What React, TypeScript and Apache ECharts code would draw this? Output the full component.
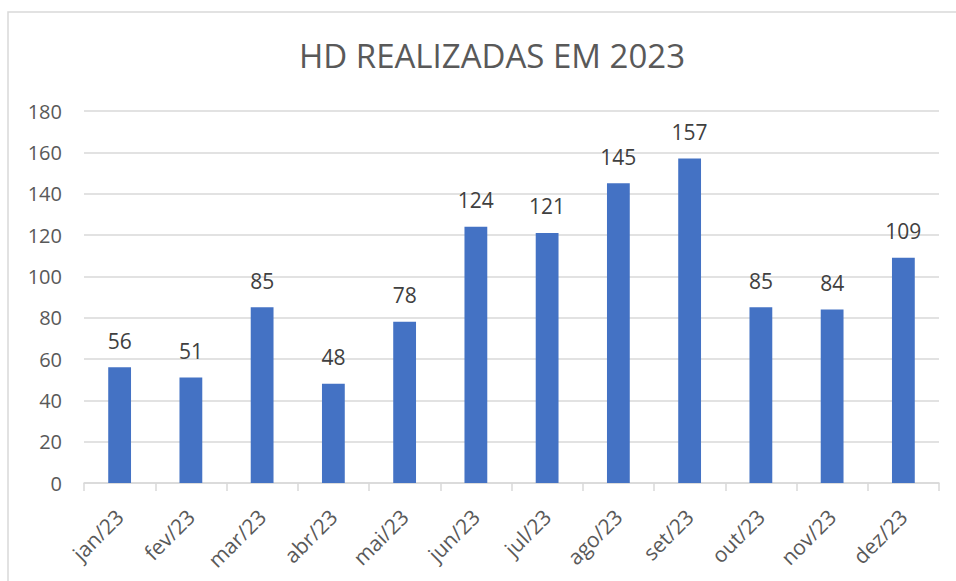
import React, { useEffect, useRef } from "react";
import * as echarts from "echarts";

const categories = ["jan/23", "fev/23", "mar/23", "abr/23", "mai/23", "jun/23", "jul/23", "ago/23", "set/23", "out/23", "nov/23", "dez/23"];
const values = [56, 51, 85, 48, 78, 124, 121, 145, 157, 85, 84, 109];
const titleText = "HD REALIZADAS EM 2023";

const FONT = "'Open Sans', 'Noto Sans', sans-serif";

export default function App() {
  const ref = useRef<HTMLDivElement>(null);
  useEffect(() => {
    if (!ref.current) return;
    const chart = echarts.init(ref.current, null, { renderer: "svg" });
    chart.setOption({
      animation: false,
      backgroundColor: "#ffffff",
      title: {
        text: titleText,
        left: 487,
        textAlign: "center",
        top: 34,
        textStyle: { fontFamily: FONT, fontSize: 33, fontWeight: "normal", color: "#595959" },
      },
      graphic: [
        {
          type: "rect",
          shape: { x: 8, y: 12, width: 1000, height: 700 },
          style: { fill: "none", stroke: "#d9d9d9", lineWidth: 1.5 },
          silent: true,
        },
      ],
      grid: { left: 84, right: 17, top: 111, bottom: 98, containLabel: false },
      xAxis: {
        type: "category",
        data: categories,
        boundaryGap: true,
        axisLine: { lineStyle: { color: "#d9d9d9", width: 1.5 } },
        axisTick: { show: true, length: 8, alignWithLabel: false, lineStyle: { color: "#d9d9d9", width: 1.5 } },
        axisLabel: { rotate: 45, margin: 30, fontFamily: FONT, fontSize: 21, color: "#595959", interval: 0 },
      },
      yAxis: {
        type: "value",
        min: 0,
        max: 180,
        interval: 20,
        axisLine: { show: false },
        axisTick: { show: false },
        splitLine: { lineStyle: { color: "#d9d9d9", width: 1.5 } },
        axisLabel: { margin: 22, fontFamily: FONT, fontSize: 20, color: "#595959" },
      },
      series: [
        {
          type: "bar",
          data: values,
          barWidth: "32%",
          itemStyle: { color: "#4472C4" },
          label: { show: true, position: "top", distance: 16, fontFamily: FONT, fontSize: 21, color: "#404040" },
        },
      ],
    });
    return () => chart.dispose();
  }, []);
  return <div ref={ref} style={{ position: "fixed", left: 0, top: 0, width: 956, height: 581 }} />;
}
